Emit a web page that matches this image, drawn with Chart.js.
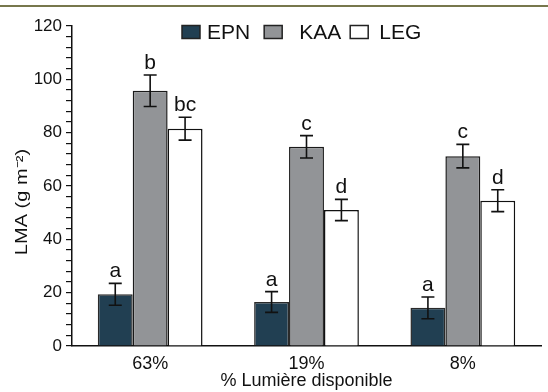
<!DOCTYPE html>
<html>
<head>
<meta charset="utf-8">
<script src="https://cdn.jsdelivr.net/npm/chart.js@4.4.1/dist/chart.umd.min.js"></script>
<style>
  html, body { margin: 0; padding: 0; background: #fff; }
  #wrap { position: relative; width: 548px; height: 392px; }
  #topline { position: absolute; left: 0; top: 5px; width: 548px; height: 0; border-top: 2px solid #77774c; }
  canvas { position: absolute; left: 0; top: 0; }
</style>
</head>
<body>
<div id="wrap">
  <canvas id="grafico" width="548" height="392"></canvas>
  <div id="topline"></div>
</div>
<script>
// valeurs
const categories = ['63%', '19%', '8%'];
const epn = [19.4, 16.5, 14.3];
const epnErr = [4.1, 3.9, 4.1];
const kaa = [95.7, 74.7, 71.2];
const kaaErr = [5.9, 4.2, 4.4];
const leg = [81.5, 51.0, 54.5];
const legErr = [4.3, 4.0, 4.1];
const epnLettres = ['a', 'a', 'a'];
const kaaLettres = ['b', 'c', 'c'];
const legLettres = ['bc', 'd', 'd'];
const titreY = 'LMA (g m⁻²)';

const FONT = "'Liberation Sans', Arial, sans-serif";

const erreurs = [epnErr, kaaErr, legErr];
const lettres = [epnLettres, kaaLettres, legLettres];

// barres d'erreur + lettres de signification
const errorBarsPlugin = {
    id: 'errorBars',
    afterDatasetsDraw(chart) {
        const ctx = chart.ctx;
        const y = chart.scales.y;
        ctx.save();
        ctx.strokeStyle = '#111';
        ctx.lineWidth = 1.6;
        ctx.fillStyle = '#111';
        ctx.font = '21px ' + FONT;
        ctx.textAlign = 'center';
        ctx.textBaseline = 'alphabetic';
        chart.data.datasets.forEach((ds, i) => {
            const meta = chart.getDatasetMeta(i);
            meta.data.forEach((bar, j) => {
                const v = ds.data[j];
                const e = erreurs[i][j];
                const yt = y.getPixelForValue(v + e);
                const yb = y.getPixelForValue(v - e);
                const cap = 6.5;
                ctx.beginPath();
                ctx.moveTo(bar.x, yt); ctx.lineTo(bar.x, yb);
                ctx.moveTo(bar.x - cap, yt); ctx.lineTo(bar.x + cap, yt);
                ctx.moveTo(bar.x - cap, yb); ctx.lineTo(bar.x + cap, yb);
                ctx.stroke();
                ctx.fillText(lettres[i][j], bar.x, yt - 6);
            });
        });
        ctx.restore();
    }
};

// légende dessinée dans la zone du graphique + titre Y
const legendePlugin = {
    id: 'legende',
    afterDraw(chart) {
        const ctx = chart.ctx;
        ctx.save();
        ctx.font = '21px ' + FONT;
        ctx.textBaseline = 'middle';
        ctx.textAlign = 'left';
        let x = 182;
        const yc = 32;
        const gapTexte = [7, 17, 11];
        const gapItem = [14, 9, 0];
        chart.data.datasets.forEach((ds, i) => {
            ctx.fillStyle = ds.backgroundColor;
            ctx.fillRect(x, yc - 6.5, 18, 13);
            ctx.strokeStyle = '#222';
            ctx.lineWidth = 1.5;
            ctx.strokeRect(x, yc - 6.5, 18, 13);
            x += 18 + gapTexte[i];
            ctx.fillStyle = '#111';
            ctx.fillText(ds.label, x, yc + 1);
            x += ctx.measureText(ds.label).width + gapItem[i];
        });
        ctx.restore();

        // titre de l'axe Y, un peu étiré comme dans l'original
        const a = chart.chartArea;
        ctx.save();
        ctx.translate(23, (a.top + a.bottom) / 2 + 16);
        ctx.rotate(-Math.PI / 2);
        ctx.scale(1.25, 1);
        ctx.font = '16px ' + FONT;
        ctx.fillStyle = '#111';
        ctx.textAlign = 'center';
        ctx.textBaseline = 'middle';
        ctx.fillText(titreY, 0, 0);
        ctx.restore();
    }
};

const ctx = document.getElementById('grafico').getContext('2d');
new Chart(ctx, {
    type: 'bar',
    data: {
        labels: categories,
        datasets: [
            { label: 'EPN', data: epn, backgroundColor: '#213f52', borderColor: '#2a2a2a', borderWidth: 1.5 },
            { label: 'KAA', data: kaa, backgroundColor: '#929497', borderColor: '#1a1a1a', borderWidth: 1.5 },
            { label: 'LEG', data: leg, backgroundColor: '#ffffff', borderColor: '#111111', borderWidth: 1.5 }
        ]
    },
    options: {
        responsive: false,
        animation: false,
        devicePixelRatio: 1,
        layout: { padding: { left: 0, right: 7, top: 26, bottom: 0 } },
        datasets: { bar: { barPercentage: 1, categoryPercentage: 0.67, borderSkipped: 'bottom' } },
        plugins: {
            legend: { display: false },
            tooltip: { enabled: false }
        },
        scales: {
            x: {
                grid: { display: false, drawTicks: false },
                border: { display: true, color: '#111', width: 1.5 },
                ticks: { color: '#111', font: { family: FONT, size: 18 }, padding: 7 },
                title: { display: true, text: '% Lumière disponible', color: '#111', font: { family: FONT, size: 18 }, padding: { top: 5, bottom: 0 } },
                afterFit: s => { s.height = 46; }
            },
            y: {
                min: 0,
                max: 120,
                grid: { drawOnChartArea: false, color: '#111', lineWidth: 1.2, tickLength: 6 },
                border: { display: true, color: '#111', width: 1.5 },
                ticks: {
                    stepSize: 4,
                    autoSkip: false,
                    color: '#111',
                    font: { family: FONT, size: 17 },
                    padding: 4,
                    callback: v => (v % 20 === 0 ? v : '')
                },
                title: { display: false },
                afterFit: s => { s.width = 72; }
            }
        }
    },
    plugins: [errorBarsPlugin, legendePlugin]
});
</script>
</body>
</html>
